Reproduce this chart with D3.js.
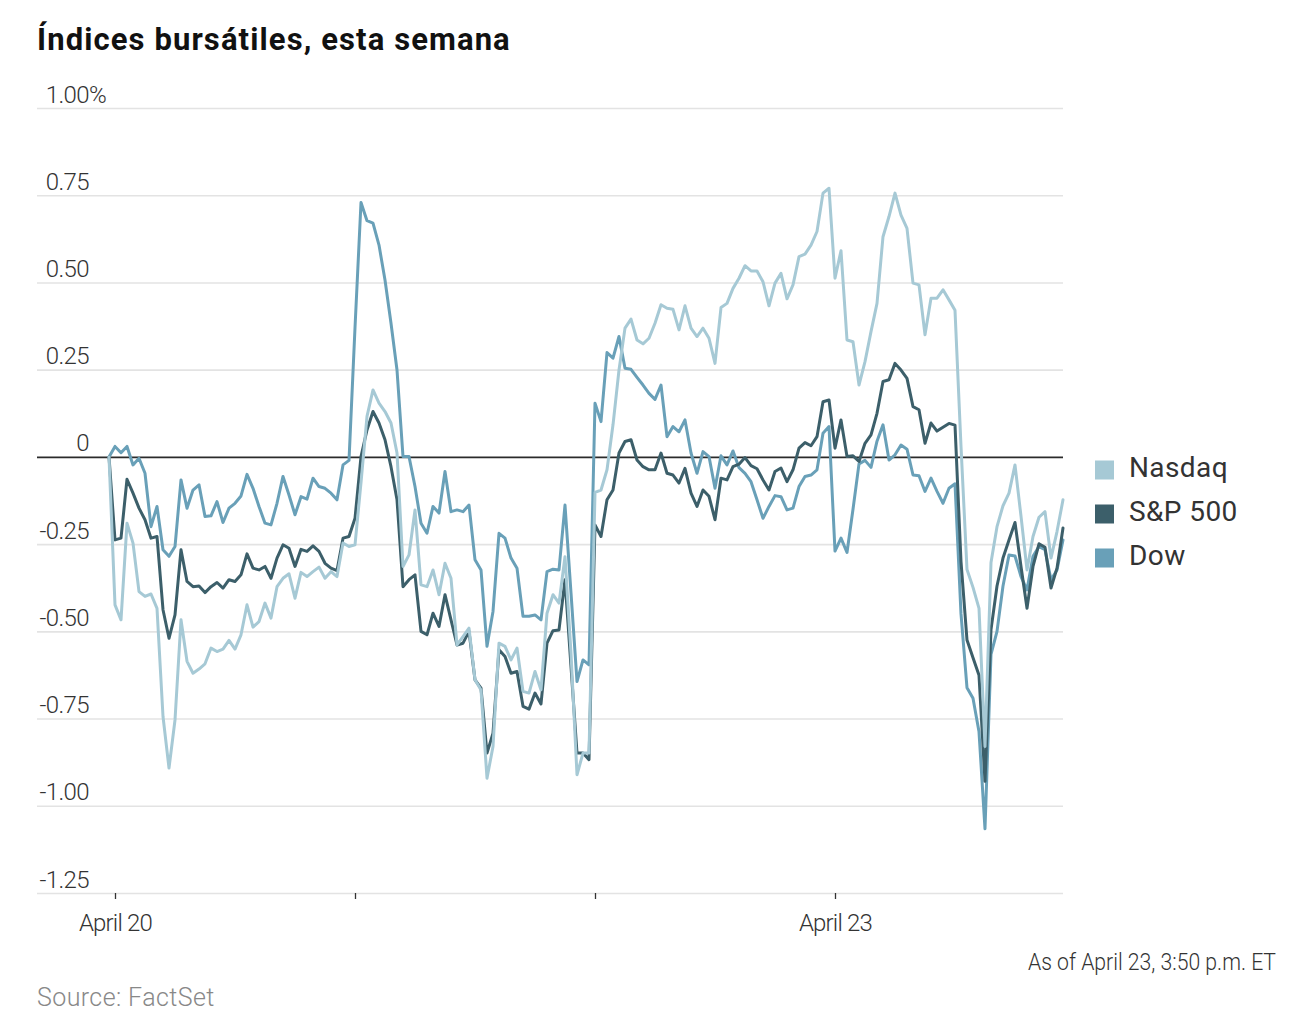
<!DOCTYPE html>
<html>
<head>
<meta charset="utf-8">
<script src="https://cdn.jsdelivr.net/npm/d3@7"></script>
<style>
  body { margin: 0; background: #fff; }
  svg text { font-family: Roboto, "Noto Sans", sans-serif; }
</style>
</head>
<body>
<svg id="chart" width="1314" height="1022"></svg>
<script>
// ---- Data (10-minute intervals; index 0 = previous close, each session 9:30–16:00) ----
const nasdaq = [
  0, -0.424, -0.467, -0.19, -0.247, -0.386, -0.4, -0.393, -0.434, -0.744, -0.892, -0.754, -0.467, -0.586, -0.62, -0.608, -0.593, -0.548, -0.558, -0.551, -0.526, -0.551, -0.51, -0.424, -0.488, -0.472, -0.419, -0.462, -0.372, -0.348, -0.335, -0.405, -0.331, -0.343, -0.329, -0.316, -0.348, -0.329, -0.343, -0.247, -0.257,
  -0.252, -0.074, 0.116, 0.192, 0.154, 0.13, 0.097, 0.011, -0.314, -0.281, -0.152, -0.367, -0.372, -0.324, -0.395, -0.305, -0.348, -0.539, -0.515, -0.491,
  -0.639, -0.668, -0.921, -0.83, -0.534, -0.543, -0.582, -0.548, -0.672, -0.677, -0.615, -0.668, -0.448, -0.395, -0.419, -0.286, -0.563, -0.911, -0.849, -0.849,
  -0.102, -0.095, -0.037, 0.092, 0.249, 0.369, 0.395, 0.335, 0.324, 0.34, 0.383, 0.436, 0.426, 0.423, 0.364, 0.433, 0.369, 0.345, 0.369, 0.34,
  0.268, 0.428, 0.44, 0.483, 0.512, 0.548, 0.533, 0.533, 0.502, 0.433, 0.498, 0.526, 0.453, 0.493, 0.574, 0.581, 0.607, 0.646, 0.756, 0.77,
  0.512, 0.591, 0.335, 0.33, 0.206, 0.273, 0.359, 0.44, 0.631, 0.689, 0.756, 0.693, 0.655, 0.498, 0.493, 0.35, 0.455, 0.455, 0.479, 0.45,
  0.42, 0.03, -0.323, -0.374, -0.434, -0.83, -0.303, -0.2, -0.14, -0.104, -0.023, -0.17, -0.324, -0.228, -0.173, -0.157, -0.29, -0.214, -0.123
];
const sp500 = [
  0, -0.238, -0.233, -0.064, -0.104, -0.147, -0.18, -0.233, -0.228, -0.438, -0.52, -0.453, -0.266, -0.357, -0.372, -0.37, -0.389, -0.372, -0.36, -0.376, -0.352, -0.357, -0.338, -0.278, -0.319, -0.324, -0.314, -0.348, -0.29, -0.252, -0.262, -0.314, -0.265, -0.271, -0.255, -0.271, -0.305, -0.319, -0.326, -0.233, -0.228,
  -0.176, 0.001, 0.077, 0.13, 0.097, 0.049, -0.028, -0.123, -0.372, -0.352, -0.338, -0.5, -0.51, -0.448, -0.486, -0.395, -0.467, -0.539, -0.534, -0.5,
  -0.639, -0.663, -0.849, -0.792, -0.553, -0.572, -0.62, -0.615, -0.715, -0.723, -0.677, -0.708, -0.534, -0.498, -0.496, -0.352, -0.601, -0.849, -0.849, -0.868,
  -0.195, -0.228, -0.123, -0.095, 0.011, 0.044, 0.049, -0.009, -0.028, -0.037, -0.037, 0.011, -0.047, -0.052, -0.075, -0.033, -0.104, -0.142, -0.095, -0.113,
  -0.18, -0.061, -0.066, -0.028, -0.021, -0.002, -0.025, -0.034, -0.066, -0.095, -0.042, -0.032, -0.071, -0.037, 0.025, 0.041, 0.032, 0.058, 0.158, 0.163,
  0.025, 0.106, 0.001, 0.003, -0.013, 0.039, 0.063, 0.125, 0.216, 0.221, 0.268, 0.249, 0.225, 0.144, 0.135, 0.039, 0.097, 0.074, 0.085, 0.096,
  0.091, -0.3, -0.525, -0.576, -0.626, -0.93, -0.495, -0.37, -0.29, -0.238, -0.188, -0.314, -0.434, -0.314, -0.249, -0.259, -0.376, -0.319, -0.204
];
const dow = [
  0, 0.03, 0.012, 0.03, -0.023, -0.004, -0.047, -0.2, -0.142, -0.266, -0.285, -0.257, -0.066, -0.147, -0.095, -0.08, -0.171, -0.169, -0.128, -0.188, -0.147, -0.133, -0.112, -0.05, -0.09, -0.142, -0.19, -0.195, -0.133, -0.056, -0.109, -0.166, -0.114, -0.121, -0.061, -0.085, -0.09, -0.104, -0.123, -0.023, -0.01,
  0.37, 0.729, 0.677, 0.67, 0.607, 0.507, 0.383, 0.249, 0.001, 0.001, -0.085, -0.19, -0.219, -0.142, -0.161, -0.042, -0.157, -0.152, -0.157, -0.138,
  -0.295, -0.324, -0.543, -0.443, -0.219, -0.233, -0.29, -0.319, -0.457, -0.457, -0.453, -0.467, -0.329, -0.322, -0.324, -0.138, -0.39, -0.644, -0.582, -0.596,
  0.154, 0.101, 0.299, 0.283, 0.345, 0.254, 0.251, 0.228, 0.206, 0.182, 0.165, 0.206, 0.058, 0.087, 0.072, 0.106, 0.011, -0.047, 0.015, 0.001,
  -0.09, 0.003, -0.023, 0.017, -0.031, -0.047, -0.071, -0.123, -0.176, -0.142, -0.111, -0.114, -0.152, -0.147, -0.085, -0.056, -0.052, -0.037, 0.068, 0.087,
  -0.27, -0.233, -0.274, -0.15, -0.02, -0.01, -0.03, 0.045, 0.092, -0.009, 0.006, 0.034, 0.022, -0.052, -0.054, -0.099, -0.061, -0.099, -0.133, -0.09,
  -0.077, -0.45, -0.662, -0.692, -0.788, -1.066, -0.566, -0.5, -0.37, -0.281, -0.284, -0.343, -0.381, -0.285, -0.257, -0.266, -0.352, -0.324, -0.238
];

const seriesNames = ["Nasdaq", "S&P 500", "Dow"];
const seriesColors = ["#a6c9d5", "#3c5f6a", "#69a0b8"];
const yTicks = [1, 0.75, 0.5, 0.25, 0, -0.25, -0.5, -0.75, -1, -1.25];
const yTickLabels = ["1.00", "0.75", "0.50", "0.25", "0", "-0.25", "-0.50", "-0.75", "-1.00", "-1.25"];
const xTickIndex = [1, 41, 81, 121];
const xTickLabels = ["April 20", "", "", "April 23"];

const title = "Índices bursátiles, esta semana";
const asOf = "As of April 23, 3:50 p.m. ET";
const source = "Source: FactSet";

// ---- Layout ----
const svg = d3.select("#chart");
const left = 37, right = 1063;
const x = d3.scaleLinear().domain([0, nasdaq.length - 1]).range([109, 1063]);
const y = d3.scaleLinear().domain([-1.25, 1]).range([893, 108]);

svg.append("text").attr("x", 37).attr("y", 50)
  .attr("font-size", 31).attr("font-weight", 700).attr("fill", "#111")
  .style("letter-spacing", "1.1px")
  .text(title);

// Y axis with gridlines
const yAxis = d3.axisLeft(y).tickValues(yTicks).tickSize(-(right - left))
  .tickFormat((d, i) => yTickLabels[i]);
const gy = svg.append("g").attr("transform", `translate(${left},0)`).call(yAxis);
gy.select(".domain").remove();
gy.selectAll(".tick line")
  .attr("stroke", d => d === 0 ? "#2b2b2b" : "#e3e3e3")
  .attr("stroke-width", 1.6);
gy.selectAll(".tick text")
  .attr("x", 52).attr("dy", null).attr("y", -6)
  .attr("text-anchor", "end")
  .attr("font-size", 24).attr("font-weight", 300).attr("fill", "#333")
  .style("letter-spacing", "-0.6px");
gy.selectAll(".tick").filter(d => d === 1).append("text")
  .attr("x", 52).attr("y", -6).attr("text-anchor", "start")
  .attr("font-size", 24).attr("font-weight", 300).attr("fill", "#333")
  .style("letter-spacing", "-0.6px")
  .text("%");
gy.selectAll(".tick").filter(d => d === 0).raise();

// X axis
const xAxis = d3.axisBottom(x).tickValues(xTickIndex).tickSize(6)
  .tickFormat((d, i) => xTickLabels[i]);
const gx = svg.append("g").attr("transform", "translate(0,893)").call(xAxis);
gx.select(".domain").remove();
gx.selectAll(".tick line").attr("stroke", "#333").attr("stroke-width", 1.3);
gx.selectAll(".tick text")
  .attr("y", 38).attr("dy", null)
  .attr("font-size", 24).attr("font-weight", 300).attr("fill", "#333")
  .style("letter-spacing", "-0.8px");

// Lines
const line = d3.line().x((d, i) => x(i)).y(d => y(d));
const allSeries = [nasdaq, sp500, dow];
const drawOrder = [2, 1, 0];
drawOrder.forEach(k => {
  svg.append("path").datum(allSeries[k])
    .attr("d", line)
    .attr("fill", "none")
    .attr("stroke", seriesColors[k])
    .attr("stroke-width", 3)
    .attr("stroke-linejoin", "round")
    .attr("stroke-linecap", "round");
});

// Legend
const lg = svg.append("g");
seriesNames.forEach((name, i) => {
  const cy = 470 + i * 44;
  lg.append("rect").attr("x", 1095).attr("y", cy - 9.5).attr("width", 19).attr("height", 19)
    .attr("fill", seriesColors[i]);
  lg.append("text").attr("x", 1129).attr("y", cy + 7)
    .attr("font-family", "'Open Sans', 'Noto Sans', sans-serif")
    .attr("font-size", 28).attr("fill", "#333")
    .style("letter-spacing", "0.4px").text(name);
});

// Footer
svg.append("text").attr("x", 1276).attr("y", 970).attr("text-anchor", "end")
  .attr("font-size", 24).attr("font-weight", 300).attr("fill", "#333")
  .attr("textLength", 248).attr("lengthAdjust", "spacingAndGlyphs")
  .text(asOf);
svg.append("text").attr("x", 37).attr("y", 1006)
  .attr("font-size", 25).attr("font-weight", 300).attr("fill", "#888")
  .style("letter-spacing", "0.4px")
  .text(source);
</script>
</body>
</html>
